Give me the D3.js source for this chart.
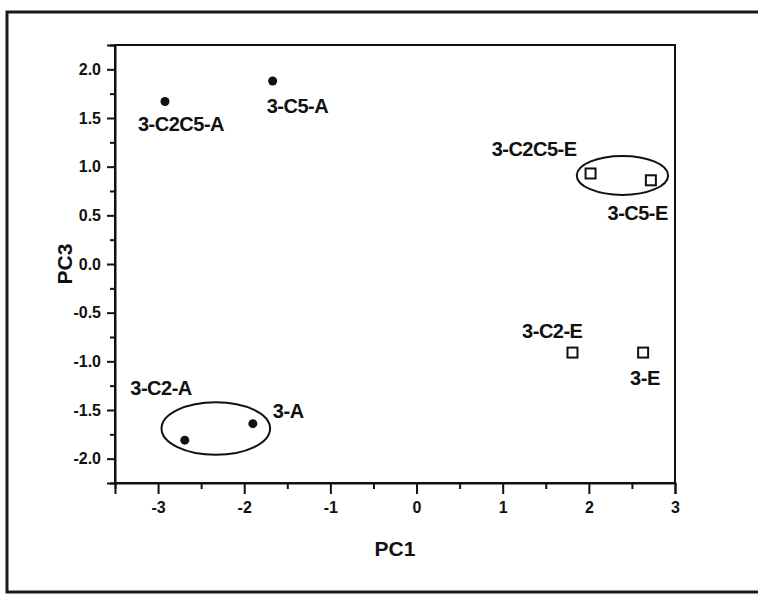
<!DOCTYPE html>
<html>
<head>
<meta charset="utf-8">
<script src="https://cdn.jsdelivr.net/npm/d3@7"></script>
<style>
  body { margin: 0; background: #fff; }
  text { font-family: "Liberation Sans", Arial, sans-serif; font-weight: bold; fill: #111; }
</style>
</head>
<body>
<div id="chartarea"></div>
<script>
    // PCA scores, PC1 vs PC3

    var sampleNames = ["3-C2C5-A", "3-C5-A", "3-C2-A", "3-A", "3-C2C5-E", "3-C5-E", "3-C2-E", "3-E"];
    var pc1Values  = [-2.92, -1.67, -2.69, -1.90, 2.02, 2.72, 1.81, 2.63];
    var pc3Values  = [1.67, 1.88, -1.81, -1.64, 0.93, 0.86, -0.91, -0.91];
    var sampleKind = ["A", "A", "A", "A", "E", "E", "E", "E"];   // A = filled dot, E = open square

    // the two groups that are circled
    var ringCx = [-2.33, 2.39];
    var ringCy = [-1.69, 0.91];
    var ringRx = [0.63, 0.53];
    var ringRy = [0.27, 0.20];

    var xTickLabels = [-3, -2, -1, 0, 1, 2, 3];
    var yTickLabels = [-2.0, -1.5, -1.0, -0.5, 0.0, 0.5, 1.0, 1.5, 2.0];

    // where each label sits relative to its marker (pixels)
    var labelPlace = {
        "3-C2C5-A": {dx: -27, dy: 30, anchor: "start"},
        "3-C5-A":   {dx: -6,  dy: 32, anchor: "start"},
        "3-C2-A":   {dx: 7,   dy: -45, anchor: "end"},
        "3-A":      {dx: 20,  dy: -6, anchor: "start"},
        "3-C2C5-E": {dx: -14, dy: -17, anchor: "end"},
        "3-C5-E":   {dx: 17,  dy: 40, anchor: "end"},
        "3-C2-E":   {dx: 10,  dy: -15, anchor: "end"},
        "3-E":      {dx: -13, dy: 32, anchor: "start"}
    };

    var points = sampleNames.map(function (n, i) {
        return {name: n, pc1: pc1Values[i], pc3: pc3Values[i], kind: sampleKind[i]};
    });
    var rings = ringCx.map(function (c, i) {
        return {cx: c, cy: ringCy[i], rx: ringRx[i], ry: ringRy[i]};
    });

    var svg = d3.select("#chartarea").append("svg")
                .attr("width", 758)
                .attr("height", 594);

    // outer frame of the scanned page, it runs off the right edge
    svg.append("rect")
       .attr("x", 7).attr("y", 12)
       .attr("width", 800).attr("height", 580)
       .attr("fill", "none")
       .attr("stroke", "#1a1a1a")
       .attr("stroke-width", 3);

    // NB: "top" is taken by window.top, so prefix these
    var boxLeft = 115, boxRight = 675, boxTop = 45, boxBottom = 483;

    var x = d3.scaleLinear().domain([-3.5, 3]).range([boxLeft, boxRight]);
    var y = d3.scaleLinear().domain([-2.25, 2.25]).range([boxBottom, boxTop]);

    var minusFix = function (s) { return s.replace("\u2212", "-"); };

    // plot box
    svg.append("rect")
       .attr("x", boxLeft).attr("y", boxTop)
       .attr("width", boxRight - boxLeft).attr("height", boxBottom - boxTop)
       .attr("fill", "none")
       .attr("stroke", "#111")
       .attr("stroke-width", 2);

    // x axis, major + minor ticks
    var xMinor = d3.range(-3.5, 3.01, 1);
    svg.append("g")
       .attr("transform", "translate(0," + boxBottom + ")")
       .call(d3.axisBottom(x).tickValues(xMinor).tickSize(6).tickFormat(""))
       .call(function (g) { g.select(".domain").remove(); });
    var xAxis = svg.append("g")
       .attr("transform", "translate(0," + boxBottom + ")")
       .call(d3.axisBottom(x).tickValues(xTickLabels).tickSize(11).tickPadding(8)
             .tickFormat(function (d) { return minusFix(d3.format("d")(d)); }));
    xAxis.select(".domain").attr("stroke-width", 2).attr("stroke", "#111");

    // y axis, major + minor ticks
    var yMinor = d3.range(-2.25, 2.26, 0.5);
    svg.append("g")
       .attr("transform", "translate(" + boxLeft + ",0)")
       .call(d3.axisLeft(y).tickValues(yMinor).tickSize(5).tickFormat(""))
       .call(function (g) { g.select(".domain").remove(); });
    var yAxis = svg.append("g")
       .attr("transform", "translate(" + boxLeft + ",0)")
       .call(d3.axisLeft(y).tickValues(yTickLabels).tickSize(8).tickPadding(6)
             .tickFormat(function (d) { return minusFix(d3.format(".1f")(d)); }));
    yAxis.select(".domain").attr("stroke-width", 2).attr("stroke", "#111");

    svg.selectAll(".tick line").attr("stroke", "#111").attr("stroke-width", 2);
    svg.selectAll(".tick text")
       .attr("font-size", "16px")
       .attr("font-family", "'Liberation Sans', Arial, sans-serif")
       .attr("font-weight", "bold")
       .attr("fill", "#111");

    // axis titles
    svg.append("text")
       .attr("x", (boxLeft + boxRight) / 2)
       .attr("y", 556)
       .attr("text-anchor", "middle")
       .attr("font-size", "21px")
       .text("PC1");

    svg.append("text")
       .attr("transform", "translate(72," + ((boxTop + boxBottom) / 2) + ") rotate(-90)")
       .attr("text-anchor", "middle")
       .attr("font-size", "21px")
       .text("PC3");

    // group ellipses
    svg.selectAll("ellipse.ring")
       .data(rings)
       .enter()
       .append("ellipse")
       .attr("class", "ring")
       .attr("cx", function (d) { return x(d.cx); })
       .attr("cy", function (d) { return y(d.cy); })
       .attr("rx", function (d) { return x(d.cx + d.rx) - x(d.cx); })
       .attr("ry", function (d) { return y(d.cy) - y(d.cy + d.ry); })
       .attr("fill", "none")
       .attr("stroke", "#111")
       .attr("stroke-width", 2);

    // filled dots
    svg.selectAll("circle.dot")
       .data(points.filter(function (d) { return d.kind === "A"; }))
       .enter()
       .append("circle")
       .attr("class", "dot")
       .attr("cx", function (d) { return x(d.pc1); })
       .attr("cy", function (d) { return y(d.pc3); })
       .attr("r", 4.5)
       .attr("fill", "#111");

    // open squares
    svg.selectAll("rect.sq")
       .data(points.filter(function (d) { return d.kind === "E"; }))
       .enter()
       .append("rect")
       .attr("class", "sq")
       .attr("x", function (d) { return x(d.pc1) - 5; })
       .attr("y", function (d) { return y(d.pc3) - 5; })
       .attr("width", 10)
       .attr("height", 10)
       .attr("fill", "#fff")
       .attr("stroke", "#111")
       .attr("stroke-width", 2);

    // sample labels
    svg.selectAll("text.lbl")
       .data(points)
       .enter()
       .append("text")
       .attr("class", "lbl")
       .attr("x", function (d) { return x(d.pc1) + labelPlace[d.name].dx; })
       .attr("y", function (d) { return y(d.pc3) + labelPlace[d.name].dy; })
       .attr("text-anchor", function (d) { return labelPlace[d.name].anchor; })
       .attr("font-size", "20px")
       .attr("letter-spacing", "-0.5px")
       .text(function (d) { return d.name; });
</script>
</body>
</html>
